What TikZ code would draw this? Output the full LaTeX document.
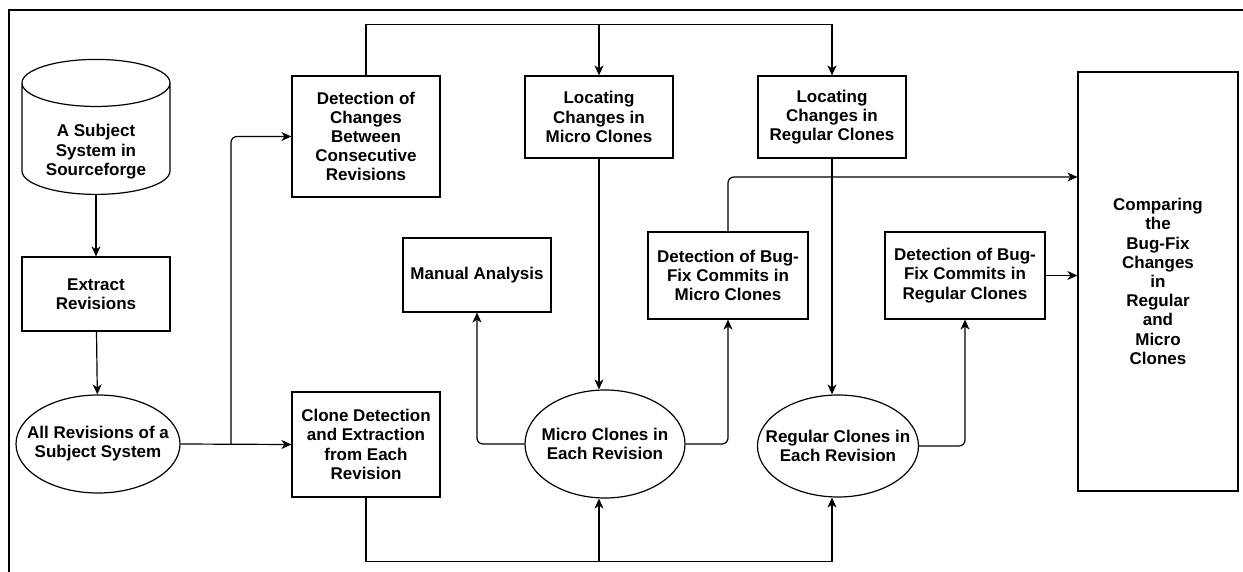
\documentclass[tikz,border=0pt]{standalone}
\usepackage{fontspec}
\setmainfont{Liberation Sans}
\usetikzlibrary{shapes.geometric,arrows.meta}

\begin{document}
\begin{tikzpicture}[x=1pt,y=-1pt,line width=1.2pt,
    every node/.style={align=center,inner sep=0pt,font=\fontsize{17}{19.2}\selectfont\bfseries},
    box/.style={draw,rectangle,minimum width=148pt},
    oval/.style={draw,ellipse,inner xsep=-60pt,inner ysep=-30pt},
    arr/.style={-{Stealth[length=10pt,width=9pt,inset=3pt]}},
    elbow/.style={rounded corners=6pt}]
  \useasboundingbox (0,0) rectangle (1243,572);
  \draw (9,572) -- (9,10) -- (1243,10);
  \node [draw,cylinder,shape border rotate=90,aspect=0.47,inner ysep=-30pt,minimum width=148pt,minimum height=135pt,anchor=south] (src) at (96,195) {\rule{0pt}{38pt}A Subject\\System in\\Sourceforge};
  \node [box,minimum height=74pt] (ext) at (96,294) {Extract\\Revisions};
  \node [oval,minimum width=164pt,minimum height=98pt] (allrev) at (98,444) {All Revisions of a\\Subject System};
  \node [box,minimum height=105pt] (clone) at (366,444.5) {Clone Detection\\and Extraction\\from Each\\Revision};
  \node [box,minimum height=121pt] (chg) at (366,136.5) {Detection of\\Changes\\Between\\Consecutive\\Revisions};
  \node [box,minimum height=82pt] (locm) at (599,117) {Locating\\Changes in\\Micro Clones};
  \node [box,minimum height=82pt] (locr) at (832,117) {Locating\\Changes in\\Regular Clones};
  \node [box,minimum height=74pt] (man) at (477,275) {Manual Analysis};
  \node [box,minimum width=160pt,minimum height=87pt] (bfm) at (728,275.5) {Detection of Bug-\\Fix Commits in\\Micro Clones};
  \node [box,minimum width=160pt,minimum height=87pt] (bfr) at (965,275.5) {Detection of Bug-\\Fix Commits in\\Regular Clones};
  \node [box,minimum width=160pt,minimum height=419pt] (cmp) at (1158,281.5) {Comparing\\the\\Bug-Fix\\Changes\\in\\Regular\\and\\Micro\\Clones};
  \node [oval,minimum width=160pt,minimum height=108pt] (mic) at (605,444) {Micro Clones in\\Each Revision};
  \node [oval,minimum width=161pt,minimum height=102pt] (reg) at (838,446) {Regular Clones in\\Each Revision};
  \coordinate (split) at (231,444);
  \draw [arr] (src) -- (ext);
  \draw [arr] (ext) -- (allrev);
  \draw [arr] (allrev.east) -- (clone.west);
  \draw [arr,elbow] (split) |- (chg.west);
  \draw [arr] (chg.north) -- ++(0,-51) coordinate (topl) -| (locr.north);
  \draw [arr] (topl -| locm.north) -- (locm.north);
  \draw [arr] (locm.south) -- (locm.south |- mic.north);
  \draw [arr] (locr.south) -- (locr.south |- reg.north);
  \draw [arr,elbow] (mic.west) -| (man.south);
  \draw [arr,elbow] (mic.east) -| (bfm.south);
  \draw [arr,elbow] (reg.east) -| (bfr.south);
  \draw [arr,elbow] (bfm.north) |- ([yshift=104.5pt]cmp.west);
  \draw [arr] (bfr.east) -- (bfr.east -| cmp.west);
  \draw [arr] (clone.south) -- ++(0,64) coordinate (botl) -| (locr.south |- reg.south);
  \draw [arr] (botl -| locm.south) -- (locm.south |- mic.south);
\end{tikzpicture}
\end{document}
